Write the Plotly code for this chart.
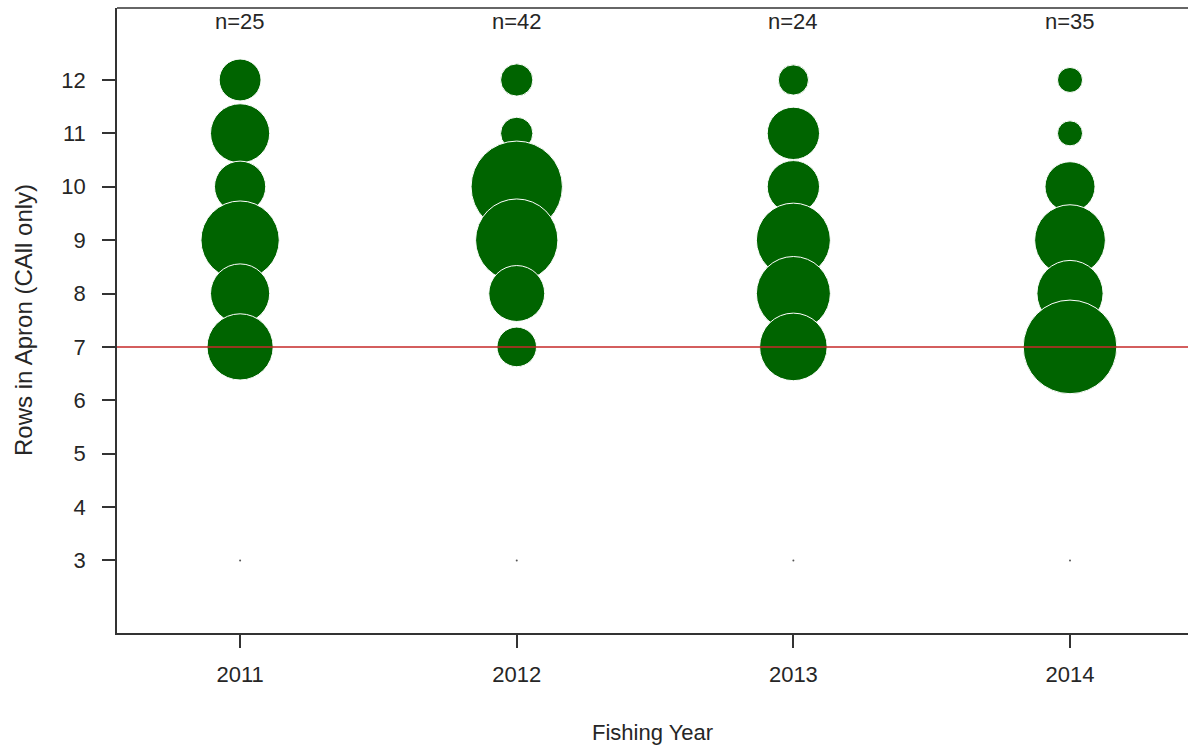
import numpy as np
import plotly.graph_objects as go

# Fishing years and apron row categories
years = [2011, 2012, 2013, 2014]
rows = [3, 7, 8, 9, 10, 11, 12]

# Number of sampled nets per row count, one list per year (aligned with `rows`)
counts_2011 = [0, 5, 4, 7, 3, 4, 2]
counts_2012 = [0, 3, 6, 13, 16, 2, 2]
counts_2013 = [0, 5, 6, 6, 3, 3, 1]
counts_2014 = [0, 14, 7, 8, 4, 1, 1]
counts_by_year = [counts_2011, counts_2012, counts_2013, counts_2014]

x_ticks = [2011, 2012, 2013, 2014]
y_ticks = [3, 4, 5, 6, 7, 8, 9, 10, 11, 12]
reference_row = 7

# Bubble diameter (px) for a proportion of 1; bubble area is proportional to share
BUBBLE_SCALE = 148.0
MIN_DOT = 2.0

GREEN = "#006400"
INK = "#262626"
FONT = "Liberation Sans, Arial, sans-serif"

fig = go.Figure()

for yr, cnts in zip(years, counts_by_year):
    cnts = np.asarray(cnts, dtype=float)
    n = cnts.sum()
    frac = cnts / n
    diam = BUBBLE_SCALE * np.sqrt(frac)
    # draw top rows first so lower bubbles sit on top
    order = np.argsort(rows)[::-1]
    xs = [yr] * len(rows)
    ys = [rows[i] for i in order]
    sizes = [max(diam[i], MIN_DOT) for i in order]
    colors = [GREEN if cnts[i] > 0 else "#555555" for i in order]
    lw = [1 if cnts[i] > 0 else 0 for i in order]
    fig.add_trace(go.Scatter(
        x=xs, y=ys, mode="markers",
        marker=dict(size=sizes, sizemode="diameter", color=colors,
                    line=dict(color="white", width=lw), opacity=1),
        hoverinfo="skip", showlegend=False,
    ))
    fig.add_annotation(x=yr, y=13.09, xref="x", yref="y", text=f"n={int(n)}",
                       showarrow=False, font=dict(size=22, color=INK, family=FONT),
                       yanchor="middle")

# reference line at 7 rows
fig.add_shape(type="line", xref="paper", x0=0, x1=1, yref="y", y0=reference_row, y1=reference_row,
              line=dict(color="#C62828", width=1.5), layer="above")
# top border of the plot box
fig.add_shape(type="line", xref="paper", x0=0, x1=1, yref="paper", y0=1, y1=1,
              line=dict(color="#333333", width=1.5), layer="above")

# axis titles
fig.add_annotation(x=0.5, y=-0.1584, xref="paper", yref="paper", text="Fishing Year",
                   showarrow=False, font=dict(size=22, color=INK, family=FONT),
                   xanchor="center", yanchor="middle")
fig.add_annotation(x=-0.0873, y=0.5, xref="paper", yref="paper", text="Rows in Apron (CAll only)",
                   showarrow=False, textangle=-90, font=dict(size=24, color=INK, family=FONT),
                   xanchor="center", yanchor="middle")

axis_common = dict(showgrid=False, zeroline=False, showline=True, linecolor="#333333",
                   linewidth=1.5, ticks="outside", ticklen=13, tickwidth=1.5,
                   tickcolor="#333333", tickfont=dict(size=22, color=INK, family=FONT))

fig.update_xaxes(range=[2010.555, 2014.4265], tickvals=x_ticks,
                 ticktext=[str(v) for v in x_ticks], ticklabelstandoff=8, **axis_common)
fig.update_yaxes(range=[1.641, 13.348], tickvals=y_ticks,
                 ticktext=[str(v) for v in y_ticks], ticklabelstandoff=12, **axis_common)

fig.update_layout(width=1188, height=746, margin=dict(l=117, r=0, t=8, b=113),
                  plot_bgcolor="white", paper_bgcolor="white",
                  font=dict(family=FONT, color=INK))

fig.write_html("out.html")
